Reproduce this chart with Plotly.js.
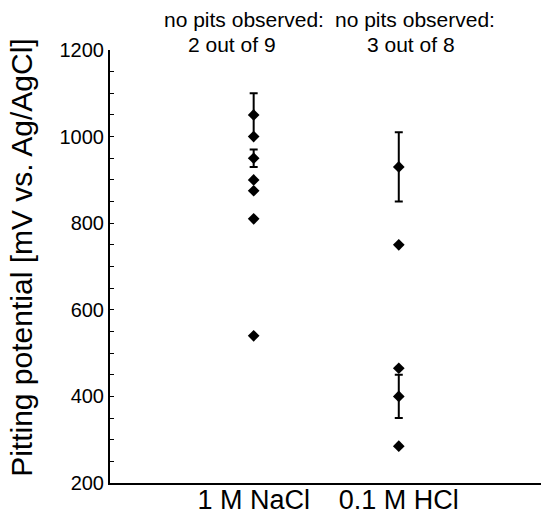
<!DOCTYPE html>
<html>
<head>
<meta charset="utf-8">
<script src="https://cdn.plot.ly/plotly-3.0.1.min.js"></script>
<style>html,body{margin:0;padding:0;background:#fff;}#chart{width:541px;height:515px;}</style>
</head>
<body>
<div id="chart"></div>
<script>
const categories = ['1 M NaCl', '0.1 M HCl'];
const naclValues = [1050, 1000, 950, 900, 875, 810, 540];
const naclErrors = [50, 0, 20, 0, 0, 0, 0];
const hclValues = [930, 750, 465, 400, 285];
const hclErrors = [80, 0, 0, 50, 0];
const noPitsHeader = ['no pits observed:', 'no pits observed:'];
const noPitsCounts = ['2 out of 9', '3 out of 8'];
const yTickVals = [200, 400, 600, 800, 1000, 1200];

const FONT = 'Liberation Sans, Arial, sans-serif';
const groups = [[naclValues, naclErrors], [hclValues, hclErrors]];
const traces = [];
groups.forEach(function (g, ci) {
  const vals = g[0], errs = g[1];
  const withErr = vals.map(function (v, i) { return errs[i] > 0 ? i : -1; }).filter(function (i) { return i >= 0; });
  const noErr = vals.map(function (v, i) { return errs[i] > 0 ? -1 : i; }).filter(function (i) { return i >= 0; });
  traces.push({
    type: 'scatter', mode: 'markers',
    x: noErr.map(function () { return ci; }),
    y: noErr.map(function (i) { return vals[i]; }),
    marker: {symbol: 'diamond', size: 9, color: '#000'},
    hoverinfo: 'y', showlegend: false
  });
  traces.push({
    type: 'scatter', mode: 'markers',
    x: withErr.map(function () { return ci; }),
    y: withErr.map(function (i) { return vals[i]; }),
    error_y: {type: 'data', array: withErr.map(function (i) { return errs[i]; }), visible: true, color: '#000', thickness: 2, width: 4},
    marker: {symbol: 'diamond', size: 9, color: '#000'},
    hoverinfo: 'y', showlegend: false
  });
});

// horizontal pixel offsets of the header lines relative to each category centre
const headerShift = [-10, 16];
const countShift = [-22, 12];
const annotations = [];
noPitsHeader.forEach(function (t, i) {
  annotations.push({
    text: t, x: i, xref: 'x', xshift: headerShift[i], y: 1, yref: 'paper', yshift: 31,
    yanchor: 'middle', xanchor: 'center', showarrow: false,
    font: {family: FONT, size: 21, color: '#000'}
  });
  annotations.push({
    text: noPitsCounts[i], x: i, xref: 'x', xshift: countShift[i], y: 1, yref: 'paper', yshift: 6,
    yanchor: 'middle', xanchor: 'center', showarrow: false,
    font: {family: FONT, size: 21, color: '#000'}
  });
});
annotations.push({
  text: 'Pitting potential [mV vs. Ag/AgCl]', textangle: -90,
  x: 0, xref: 'paper', xshift: -88, xanchor: 'center',
  y: 0.52, yref: 'paper', yanchor: 'middle', showarrow: false,
  font: {family: FONT, size: 30, color: '#000'}
});

const layout = {
  width: 541, height: 515,
  margin: {l: 110, r: 0, t: 50, b: 32, pad: 0},
  paper_bgcolor: '#fff', plot_bgcolor: '#fff',
  showlegend: false,
  font: {family: FONT, color: '#000'},
  xaxis: {
    range: [-0.99, 1.98], tickvals: [0, 1], ticktext: categories,
    showgrid: false, zeroline: false, showline: true, linecolor: '#000', linewidth: 2,
    ticks: '', ticklabelstandoff: -8, tickfont: {family: FONT, size: 27, color: '#000'}, fixedrange: true
  },
  yaxis: {
    range: [200, 1200], tickvals: yTickVals,
    showgrid: false, zeroline: false, showline: true, linecolor: '#000', linewidth: 2,
    ticks: 'inside', ticklen: 4, tickwidth: 1, tickcolor: '#000',
    minor: {dtick: 50, ticks: 'inside', ticklen: 4, tickwidth: 1, tickcolor: '#000', showgrid: false},
    tickfont: {family: FONT, size: 20, color: '#000'}, fixedrange: true
  },
  annotations: annotations
};

Plotly.newPlot('chart', traces, layout, {displayModeBar: false, staticPlot: true});
</script>
</body>
</html>
